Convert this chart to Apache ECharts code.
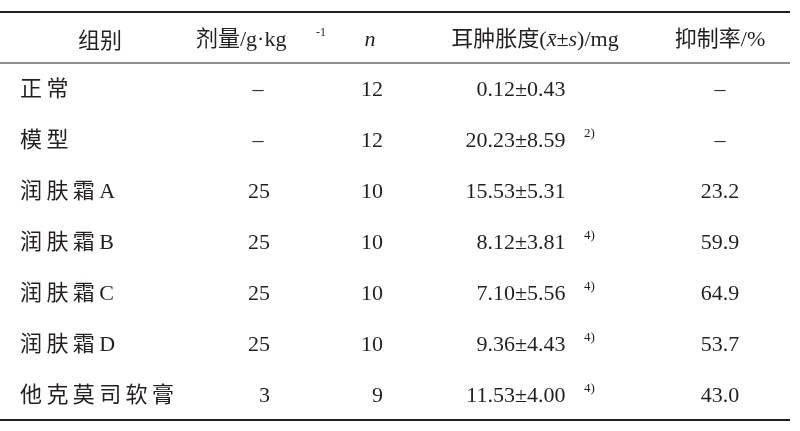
<!DOCTYPE html>
<html><head><meta charset="utf-8">
<script src="https://cdn.jsdelivr.net/npm/echarts@6/dist/echarts.min.js"></script>
<style>html,body{margin:0;background:#fff}#c{width:800px;height:431px}</style>
</head><body><div id="c"></div>
<script>
const groups = ['正常','模型','润肤霜A','润肤霜B','润肤霜C','润肤霜D','他克莫司软膏'];
const doses = ['–','–','25','25','25','25','3'];
const ns = ['12','12','10','10','10','10','9'];
const means = ['0.12','20.23','15.53','8.12','7.10','9.36','11.53'];
const sds = ['0.43','8.59','5.31','3.81','5.56','4.43','4.00'];
const sups = ['','2)','','4)','4)','4)','4)'];
const inhibit = ['–','–','23.2','59.9','64.9','53.7','43.0'];

const FONT = '"Liberation Serif","Noto Sans CJK SC",serif';
const C = '#231f20';
const chart = echarts.init(document.getElementById('c'));
const g = [];
function t(x, y, text, align, size, extra) {
  g.push({type:'text', x, y, style:Object.assign({text, fill:C, font:(size||22)+'px '+FONT, textAlign:align||'left', align:align||'left', textVerticalAlign:'middle', verticalAlign:'middle'}, extra||{})});
}
function zh(x, y, text, align) {
  g.push({type:'text', x, y, style:{text, fill:C, font:'22px "Noto Sans CJK SC",serif', textAlign:align||'left', align:align||'left', verticalAlign:'middle', textVerticalAlign:'middle',
    rich:{}}});
}
function line(y, w){ g.push({type:'line', shape:{x1:0,y1:y,x2:790,y2:y}, style:{stroke:C, lineWidth:w}}); }
line(12, 2); line(63, 1.2); line(420, 2);
const hy = 40;
zh(100, hy, '组别', 'center');
g.push({type:'text', x:196, y:hy, style:{text:'剂量/g·kg', fill:C, font:'22px '+FONT, textAlign:'left', align:'left', verticalAlign:'middle'}});
t(316, hy-7, '-1', 'left', 12);
t(370, hy, 'n', 'center', 22, {font:'italic 22px '+FONT});
g.push({type:'text', x:535, y:hy, style:{
  text:'耳肿胀度({i|x̄}±{i|s})/mg', fill:C, font:'22px '+FONT, textAlign:'center', align:'center', verticalAlign:'middle',
  rich:{i:{fontStyle:'italic', fontSize:22, fontFamily:'Liberation Serif', fill:C}}}});
t(720, hy, '抑制率/%', 'center');
groups.forEach((name, i) => {
  const y = 90 + i * 51;
  g.push({type:'text', x:20, y, style:{text:name.split('').join('\u2009'), fill:C, font:'22px '+FONT, textAlign:'left', align:'left', verticalAlign:'middle'}});
  if (doses[i] === '–') t(258, y, doses[i], 'center'); else t(270, y, doses[i], 'right');
  t(383, y, ns[i], 'right');
  t(515, y, means[i], 'right');
  t(515, y, '±', 'left');
  t(527, y, sds[i], 'left');
  if (sups[i]) t(584, y - 7, sups[i], 'left', 13);
  t(720, y, inhibit[i], 'center');
});
chart.setOption({animation:false, graphic:g});
</script></body></html>
